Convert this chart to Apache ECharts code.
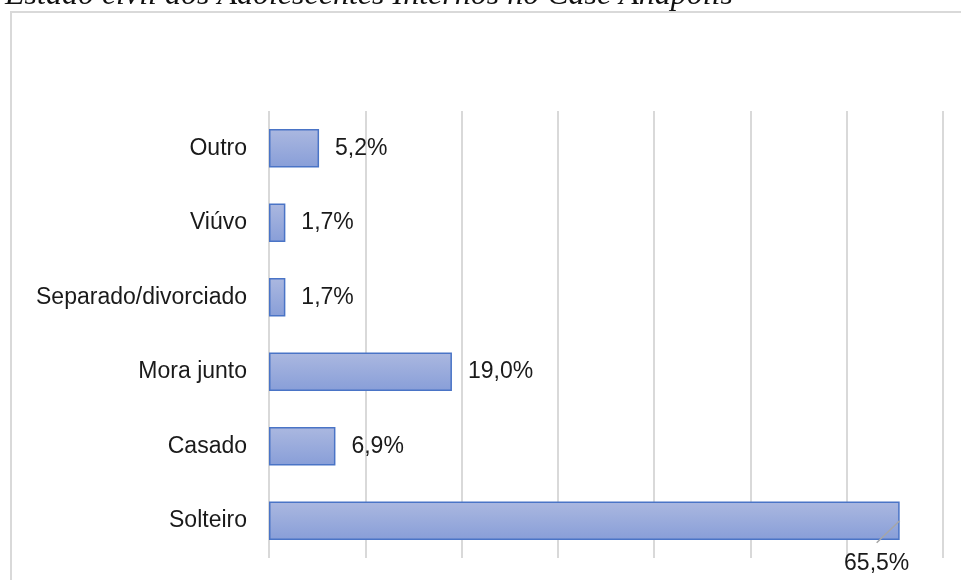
<!DOCTYPE html>
<html>
<head>
<meta charset="utf-8">
<script src="https://cdn.jsdelivr.net/npm/echarts@6/dist/echarts.min.js"></script>
<style>
  html, body { margin: 0; padding: 0; background: #fff; }
  #chart { width: 961px; height: 580px; }
</style>
</head>
<body>
<div id="chart"></div>
<script>
// Marital status of interned adolescents (percent)
const categories = ['Solteiro', 'Casado', 'Mora junto', 'Separado/divorciado', 'Viúvo', 'Outro'];
const percentages = [65.5, 6.9, 19.0, 1.7, 1.7, 5.2];
const titleText = 'Estado civil dos Adolescentes Internos no Case Anápolis';

const fmt = v => v.toFixed(1).replace('.', ',') + '%';

const chart = echarts.init(document.getElementById('chart'));

// the longest bar carries its label underneath, tied to the bar end by a guide line
const callout = { index: 0, back: 23, drop: 43, lineDrop: 22 };

chart.setOption({
  animation: false,
  backgroundColor: '#fff',
  graphic: [
    {
      type: 'rect',
      shape: { x: 11, y: 12, width: 980, height: 600 },
      style: { fill: 'none', stroke: '#d9d9d9', lineWidth: 2 },
      silent: true
    },
    {
      type: 'text',
      x: 5,
      y: -20,
      style: {
        text: titleText,
        font: 'italic 32px "Liberation Serif", "Times New Roman", serif',
        fill: '#111',
        verticalAlign: 'top'
      },
      silent: true
    }
  ],
  grid: { left: 269, right: 18, top: 111, bottom: 22, containLabel: false },
  xAxis: {
    type: 'value',
    min: 0,
    max: 70,
    interval: 10,
    axisLabel: { show: false },
    axisLine: { show: false },
    axisTick: { show: false },
    splitLine: { lineStyle: { color: '#d9d9d9', width: 2 } }
  },
  yAxis: {
    type: 'category',
    data: categories,
    axisLine: { show: false },
    axisTick: { show: false },
    axisLabel: {
      margin: 22,
      fontFamily: 'Liberation Sans, Arial, sans-serif',
      fontSize: 23,
      color: '#1a1a1a'
    }
  },
  series: [
    {
      type: 'bar',
      data: percentages,
      barCategoryGap: '48%',
      itemStyle: {
        color: new echarts.graphic.LinearGradient(0, 0, 0, 1, [
          { offset: 0, color: '#abb8e0' },
          { offset: 1, color: '#889ed8' }
        ]),
        borderColor: '#4a74c6',
        borderWidth: 1.5
      },
      label: {
        show: true,
        position: 'right',
        distance: 16,
        fontFamily: 'Liberation Sans, Arial, sans-serif',
        fontSize: 23,
        color: '#1a1a1a',
        formatter: p => fmt(p.value)
      },
      labelLayout: function (params) {
        if (params.dataIndex !== callout.index) {
          return {};
        }
        const r = params.rect;
        return {
          x: r.x + r.width - callout.back,
          y: r.y + r.height / 2 + callout.drop,
          align: 'center',
          verticalAlign: 'middle'
        };
      },
      z: 2
    },
    {
      // guide line from the end of the callout bar to its label
      type: 'custom',
      data: [[percentages[callout.index], callout.index]],
      encode: { x: 0, y: 1 },
      silent: true,
      z: 3,
      renderItem: function (params, api) {
        const end = api.coord([api.value(0), api.value(1)]);
        return {
          type: 'line',
          shape: {
            x1: end[0],
            y1: end[1],
            x2: end[0] - callout.back,
            y2: end[1] + callout.lineDrop
          },
          style: { stroke: '#a6a6a6', lineWidth: 1.5 }
        };
      }
    }
  ]
});
</script>
</body>
</html>
